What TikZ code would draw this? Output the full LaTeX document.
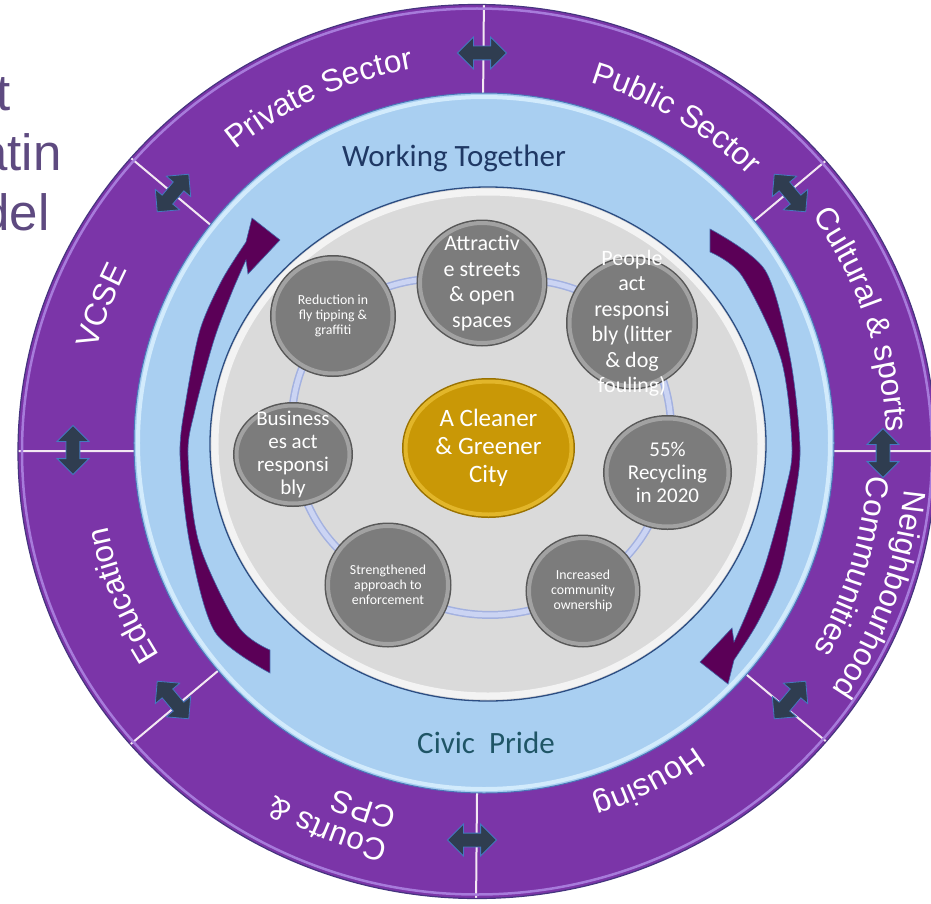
\documentclass[tikz,border=0pt]{standalone}
\usepackage{fontspec}
\setmainfont{Carlito}
\newfontfamily\arialfont{Liberation Sans}
\usepackage{tikz}
\usetikzlibrary{shapes.geometric,shapes.arrows,decorations.text,positioning}
\definecolor{ringpurple}{HTML}{7B35A8}
\definecolor{ringedge}{HTML}{46347F}
\definecolor{ringshine}{HTML}{A77BDB}
\definecolor{dividerwhite}{HTML}{F3E8F3}
\definecolor{bandblue}{HTML}{A9CFF1}
\definecolor{bandshine}{HTML}{D2EBFC}
\definecolor{bandedge}{HTML}{4A78B8}
\definecolor{discgray}{HTML}{DADADA}
\definecolor{discshine}{HTML}{F3F3F3}
\definecolor{discedge}{HTML}{2C4D82}
\definecolor{plum}{HTML}{5B0057}
\definecolor{plumedge}{HTML}{4366A8}
\definecolor{slate}{HTML}{2F3D50}
\definecolor{slateedge}{HTML}{4479C0}
\definecolor{satfill}{HTML}{7C7C7C}
\definecolor{satrim}{HTML}{A2A2A2}
\definecolor{satedge}{HTML}{585858}
\definecolor{goldfill}{HTML}{C99806}
\definecolor{goldrim}{HTML}{E2B62A}
\definecolor{goldedge}{HTML}{9A7200}
\definecolor{trackdark}{HTML}{A3B1E0}
\definecolor{tracklight}{HTML}{CBD4F3}
\definecolor{togetherblue}{HTML}{1F3864}
\definecolor{prideteal}{HTML}{1F5566}
\definecolor{titlepurple}{HTML}{5E4A80}
\pgfdeclarelayer{rings}
\pgfdeclarelayer{tracks}
\pgfsetlayers{rings,tracks,main}
\newcommand{\ringfont}{\arialfont\fontsize{31.5}{38}\selectfont}
% white label bent round the partner ring, read clockwise
\newcommand{\ringtext}[3]{%
	\path[decorate,decoration={text along path,text align=center,text color=white,
		text={|\ringfont|#3}}]
		({#1+45}:#2) arc[start angle={#1+45},end angle={#1-45},radius=#2];}
\tikzset{
	sat/.style={
		ellipse,
		inner sep=0pt,
		fill=satfill,
		draw=satrim,
		line width=4,
		preaction={draw=satedge,line width=7}
	},
	bigtext/.style={
		text=white,
		align=center,
		font=\fontsize{22}{25.5}\selectfont
	},
	midtext/.style={
		text=white,
		align=center,
		font=\fontsize{21}{23}\selectfont
	},
	smalltext/.style={
		text=white,
		align=center,
		font=\fontsize{13.8}{15}\selectfont
	},
	hubnode/.style={
		ellipse,
		inner sep=0pt,
		fill=goldfill,
		draw=goldrim,
		line width=4,
		preaction={draw=goldedge,line width=7},
		minimum width=166,
		minimum height=133,
		text=white,
		align=center,
		font=\fontsize{25}{28}\selectfont
	},
	linkarrow/.style={
		double arrow,
		fill=slate,
		draw=slateedge,
		line width=0.8,
		inner xsep=0pt,
		inner ysep=6.5pt,
		minimum height=49,
		minimum width=31,
		double arrow head extend=9pt
	},
	track/.style={
		draw=tracklight,
		line width=5,
		preaction={draw=trackdark,line width=8}
	},
	bandnote/.style={
		anchor=base,
		font=\fontsize{31}{36}\selectfont
	},
	headline/.style={
		anchor=base east,
		text=titlepurple,
		font=\arialfont\fontsize{51}{60}\selectfont
	},
	divider/.style={
		draw=dividerwhite,
		line width=2
	}
}
\begin{document}
\begin{tikzpicture}[x=1pt,y=1pt]
\useasboundingbox (-480,-452) rectangle (451,451);
\clip (-480,-452) rectangle (451,451);
\node[headline] (titlet) at (-466,341) {t};
\node[headline] (titleatin) at (-415,281) {atin};
\node[headline] (titledel) at (-427,221) {del};
\begin{pgfonlayer}{rings}
	\clip (-480,-452) rectangle (451,451);
	\fill[ringpurple] (-3,-0.5) ellipse[x radius=459,y radius=447];
	\begin{scope}
		\clip (-3,-0.5) ellipse[x radius=459,y radius=447];
		\draw[divider] (0:330) -- (0:470) (40:330) -- (40:470)
			(89.5:330) -- (89.5:470) (140:330) -- (140:470)
			(180:330) -- (180:470) (220:330) -- (220:470)
			(269.5:330) -- (269.5:470) (320:330) -- (320:470);
	\end{scope}
	\draw[ringshine,line width=2.5] (-3,-0.5) ellipse[x radius=455,y radius=443];
	\draw[ringedge,line width=1.2] (-3,-0.5) ellipse[x radius=459,y radius=447];
	\fill[bandblue] (4,8) circle[radius=350];
	\draw[bandshine,line width=4] (4,8) circle[radius=346];
	\draw[bandedge,line width=1] (4,8) circle[radius=350];
	\fill[discgray] (8,7) ellipse[x radius=278,y radius=257];
	\draw[discshine,line width=7] (8,7) ellipse[x radius=273,y radius=252];
	\draw[discedge,line width=1.3] (8,7) ellipse[x radius=278,y radius=257];
	% the two turning arrows inside the blue band
	\foreach \turn in {0,180}
		\fill[plum,draw=plumedge,line width=0.6,rotate around={\turn:(10,0)}]
			plot[smooth] coordinates {(-210,-222) (-265,-181) (-290,-94) (-300,-4) (-294,51) (-280,121) (-258,171) (-234,209)}
			-- (-228,233) -- (-200,211) -- (-232,177)
			-- plot[smooth] coordinates {(-234,191) (-248,159) (-266,111) (-285,41) (-292,-4) (-281,-92) (-242,-175) (-210,-199)}
			-- cycle;
\end{pgfonlayer}
\node[bandnote,text=togetherblue] (together) at (-26,285) {Working Together};
\node[bandnote,text=prideteal] (pride) at (6,-302) {Civic~~Pride};
\node[linkarrow] (linktop) at (2,398) {};
\node[linkarrow,rotate=-50] (linkne) at (310,258) {};
\node[linkarrow,rotate=90] (linkeast) at (403,-2) {};
\node[linkarrow,rotate=50] (linkse) at (310,-249) {};
\node[linkarrow] (linkbottom) at (-8,-389) {};
\node[linkarrow,rotate=-50] (linksw) at (-307,-249) {};
\node[linkarrow,rotate=90] (linkwest) at (-407,1) {};
\node[linkarrow,rotate=50] (linknw) at (-307,258) {};
\ringtext{114.5}{388}{Private Sector}
\ringtext{59.5}{385}{Public Sector}
\ringtext{19}{407}{Cultural {\&} sports}
\ringtext{-19.7}{426}{Neighbourhood}
\ringtext{-17.2}{388}{Communities}
\ringtext{-63}{365}{Housing}
\ringtext{-112}{401}{Courts {\&}}
\ringtext{-108}{367}{CPS}
\ringtext{202}{380}{Education}
\ringtext{159}{396}{VCSE}
\node[sat,minimum width=119,minimum height=115,
	label={[smalltext]center:Reduction in\\fly tipping \&\\graffiti}] (tipping) at (-147,135) {};
\node[sat,minimum width=124,minimum height=120,
	label={[bigtext]center:Attractiv\\e streets\\\& open\\spaces}] (streets) at (2,168) {};
\node[sat,minimum width=125,minimum height=126,
	label={[bigtext]center:People\\act\\responsi\\bly (litter\\\& dog\\fouling)}] (people) at (152,128) {};
\node[sat,minimum width=122,minimum height=108,
	label={[midtext]center:55\%\\Recycling\\in 2020}] (recycling) at (187.5,-21.5) {};
\node[sat,minimum width=108,minimum height=106,
	label={[smalltext]center:Increased\\community\\ownership}] (ownership) at (103,-140) {};
\node[sat,minimum width=120,minimum height=118,
	label={[smalltext]center:Strengthened\\approach to\\enforcement}] (enforcement) at (-92,-134) {};
\node[sat,minimum width=113,minimum height=98,
	label={[midtext]center:Business\\es act\\responsi\\bly}] (business) at (-187,-3.5) {};
\node[hubnode] (cleaner) at (8.5,3) {A Cleaner\\\& Greener\\City};
\begin{pgfonlayer}{tracks}
	\draw[track] (tipping.center) to[bend left=23] (streets.center)
		to[bend left=24] (people.center) to[bend left=23] (recycling.center)
		to[bend left=23] (ownership.center) to[bend left=28] (enforcement.center)
		to[bend left=26] (business.center) to[bend left=22] (tipping.center);
\end{pgfonlayer}
\end{tikzpicture}
\end{document}
